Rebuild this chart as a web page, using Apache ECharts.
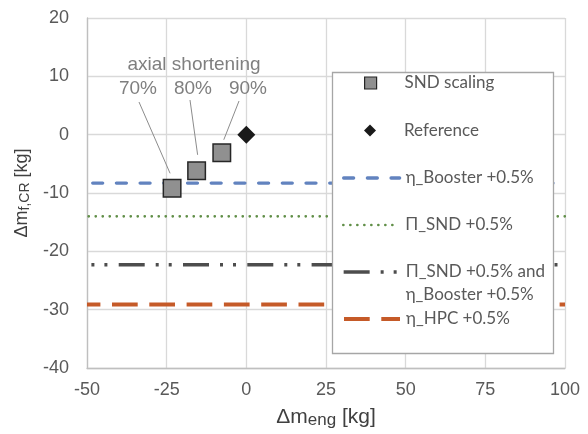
<!DOCTYPE html>
<html><head><meta charset="utf-8">
<script src="https://cdn.jsdelivr.net/npm/echarts@6/dist/echarts.min.js"></script>
<style>html,body{margin:0;padding:0;background:#fff}#c{width:588px;height:434px}</style>
</head><body><div id="c"></div>
<script>
// ---- data ----
const xMin = -50, xMax = 100, xStep = 25;
const yMin = -40, yMax = 20, yStep = 10;
const sndName = 'SND scaling';
const sndLabels = ['70%', '80%', '90%'];
const sndX = [-23.3, -15.6, -7.7];
const sndY = [-9.2, -6.2, -3.1];
const refName = 'Reference';
const refX = [0];
const refY = [0];
const lineNames = ['η_Booster +0.5%', 'Π_SND +0.5%', 'Π_SND +0.5% and η_Booster +0.5%', 'η_HPC +0.5%'];
const lineValues = [-8.3, -14.0, -22.3, -29.1];
const lineXRange = [-50, 100];
const annotTitle = 'axial shortening';

// ---- styles ----
const tickFont = 'Liberation Sans, Arial, sans-serif';
const legendFont = 'Lato, Carlito, sans-serif';
const lineStyles = [
  {color:'#6283bf', width:3.3, type:[10,13.7], cap:'round', dashOffset:18},
  {color:'#618f48', width:2.6, type:[0.1,6.9], cap:'round', dashOffset:5.3},
  {color:'#4d4d4d', width:3.3, type:[26,11,3,10,3,11.3], cap:'butt', dashOffset:32.6},
  {color:'#c55a28', width:4, type:[25.7,11.6], cap:'butt', dashOffset:12.3}
];

const chart = echarts.init(document.getElementById('c'));

const series = [
  {
    name: sndName, type: 'scatter', z: 3,
    data: sndX.map((x, i) => [x, sndY[i]]),
    symbol: 'rect', symbolSize: 17.5,
    itemStyle: {color: '#909090', borderColor: '#262626', borderWidth: 1.5, opacity: 1}
  },
  {
    name: refName, type: 'scatter', z: 3,
    data: refX.map((x, i) => [x, refY[i]]),
    symbol: 'diamond', symbolSize: 18,
    itemStyle: {color: '#1a1a1a', opacity: 1}
  }
].concat(lineNames.map((n, i) => ({
  name: n, type: 'line', z: 1, symbol: 'none', silent: true,
  data: lineXRange.map(x => [x, lineValues[i]]),
  itemStyle: {color: lineStyles[i].color},
  lineStyle: lineStyles[i]
})));

const LH = 23;
const legendCenters = [83, 130.5, 178, 225, 272, 319];
const legends = [];
// symbol legends (icon 12x12 centred at x=370)
[sndName, refName].forEach((n, i) => {
  legends.push({
    data: [n], left: 364, top: legendCenters[i] - LH / 2, padding: 0,
    itemWidth: 12, itemHeight: 12, selectedMode: false, z: 5,
    itemStyle: {borderWidth: i === 0 ? 1.2 : 0},
    textStyle: {fontFamily: legendFont, fontSize: 17, color: '#595959', lineHeight: LH, padding: [0, 0, 0, 23]}
  });
});
lineNames.forEach((n, i) => {
  const multi = i === 2;
  const nLines = multi ? 3 : 1;
  legends.push({
    data: [n], left: 342, top: legendCenters[i + 2] - nLines * LH / 2, padding: 0,
    itemWidth: 56, itemHeight: 12, selectedMode: false, z: 5,
    itemStyle: {opacity: 0},
    lineStyle: {dashOffset: 0, width: lineStyles[i].width},
    formatter: multi ? '\nΠ_SND +0.5% and\nη_Booster +0.5%' : '{name}',
    textStyle: {fontFamily: legendFont, fontSize: 17, color: '#595959', lineHeight: LH, padding: [0, 0, 0, 1]}
  });
});

chart.setOption({
  animation: false,
  backgroundColor: '#fff',
  grid: {left: 87, top: 18, right: 23, bottom: 64, containLabel: false},
  xAxis: {
    type: 'value', min: xMin, max: xMax, interval: xStep,
    axisLine: {show: true, onZero: false, lineStyle: {color: '#bfbfbf', width: 1.3}},
    axisTick: {show: false},
    splitLine: {show: true, lineStyle: {color: '#d9d9d9', width: 1.3}},
    axisLabel: {fontFamily: tickFont, fontSize: 18, color: '#595959', margin: 13},
    name: '{a|Δm}{b|eng}{a| [kg]}', nameLocation: 'middle', nameGap: 39,
    nameTextStyle: {rich: {
      a: {fontFamily: tickFont, fontSize: 21, color: '#404040', verticalAlign: 'bottom'},
      b: {fontFamily: tickFont, fontSize: 17, color: '#404040', verticalAlign: 'bottom', padding: [0,0,-1,0]}
    }}
  },
  yAxis: {
    type: 'value', min: yMin, max: yMax, interval: yStep,
    axisLine: {show: true, onZero: false, lineStyle: {color: '#bfbfbf', width: 1.3}},
    axisTick: {show: false},
    splitLine: {show: true, lineStyle: {color: '#d9d9d9', width: 1.3}},
    axisLabel: {fontFamily: tickFont, fontSize: 18, color: '#595959', margin: 18},
    name: '{a|Δm}{b|f,CR}{a| [kg]}', nameLocation: 'middle', nameGap: 48, nameRotate: 90,
    nameTextStyle: {rich: {
      a: {fontFamily: tickFont, fontSize: 18, color: '#404040', verticalAlign: 'bottom'},
      b: {fontFamily: tickFont, fontSize: 14, color: '#404040', verticalAlign: 'bottom', padding: [0,0,-1,0]}
    }}
  },
  legend: legends,
  series: series
});

// ---- legend box + annotations ----
const labelPos = [[138, 89], [193, 89], [248, 89]];
const leaderStart = [[139, 102], [190, 100], [239, 101]];
const leaderEndOff = [[-2, -15], [1, -16], [2, -13]];
const graphics = [{
  type: 'rect', z: 4, shape: {x: 332.5, y: 72.5, width: 221, height: 281},
  style: {fill: '#fff', stroke: '#a6a6a6', lineWidth: 1.3}
}, {
  type: 'text', z: 6, x: 194, y: 65,
  style: {text: annotTitle, font: '19px ' + tickFont, fill: '#7f7f7f', align: 'center', verticalAlign: 'middle'}
}];
sndX.forEach((x, i) => {
  const p = chart.convertToPixel({gridIndex: 0}, [x, sndY[i]]);
  graphics.push({
    type: 'text', z: 6, x: labelPos[i][0], y: labelPos[i][1],
    style: {text: sndLabels[i], font: '19px ' + tickFont, fill: '#7f7f7f', align: 'center', verticalAlign: 'middle'}
  });
  graphics.push({
    type: 'line', z: 6,
    shape: {x1: leaderStart[i][0], y1: leaderStart[i][1], x2: p[0] + leaderEndOff[i][0], y2: p[1] + leaderEndOff[i][1]},
    style: {stroke: '#8c8c8c', lineWidth: 1}
  });
});
chart.setOption({graphic: graphics});
</script>
</body></html>
